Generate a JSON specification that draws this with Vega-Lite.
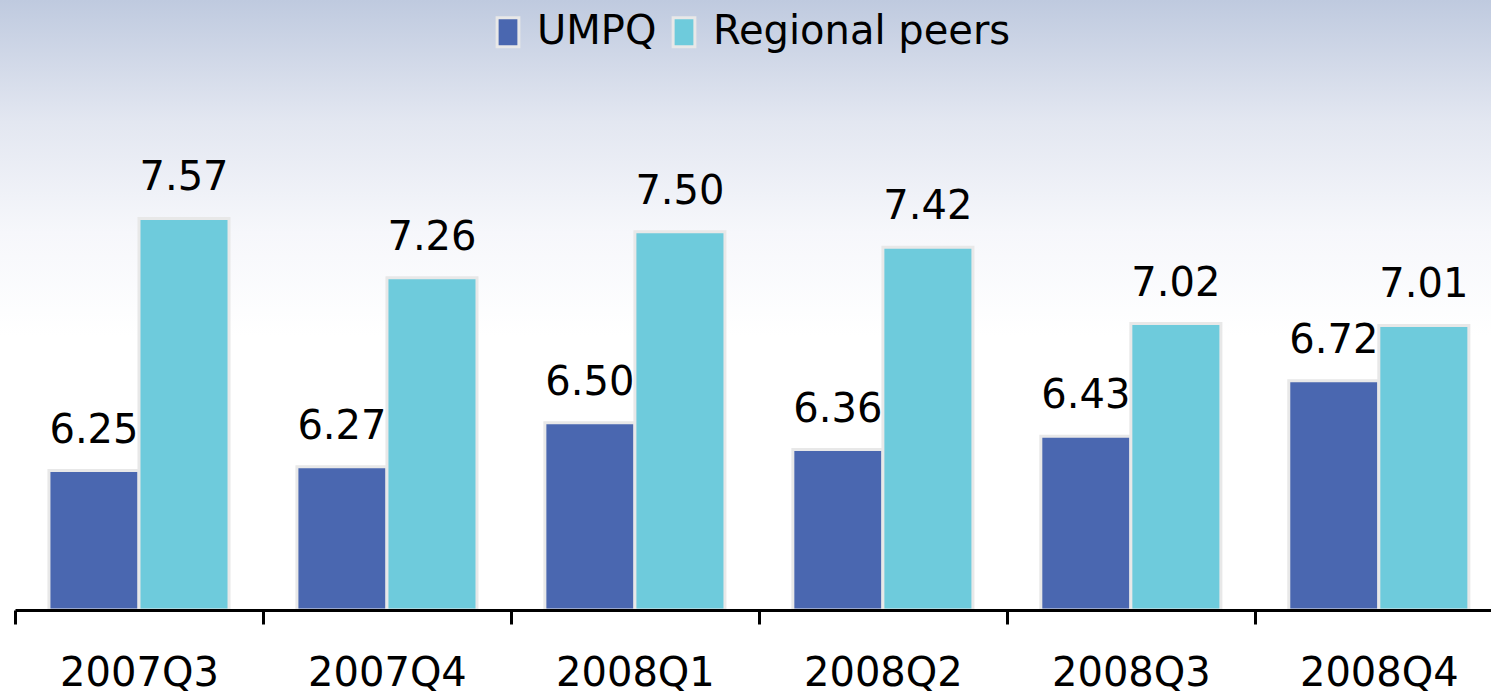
{
  "$schema": "https://vega.github.io/schema/vega-lite/v6.json",
  "width": 1491,
  "height": 610,
  "autosize": {"type": "none"},
  "padding": {"left": 0, "top": 0, "right": 0, "bottom": 83},
  "background": "white",
  "config": {
    "font": "DejaVu Sans",
    "view": {
      "stroke": null,
      "fill": {
        "gradient": "linear", "x1": 0, "y1": 0, "x2": 0, "y2": 1,
        "stops": [
          {"offset": 0, "color": "#bfcadf"},
          {"offset": 0.2, "color": "#e3e7f1"},
          {"offset": 0.38, "color": "#f6f7fb"},
          {"offset": 0.55, "color": "#ffffff"},
          {"offset": 1, "color": "#ffffff"}
        ]
      }
    }
  },
  "data": {
    "values": [
      {"quarter": "2007Q3", "series": "UMPQ", "value": 6.25},
      {"quarter": "2007Q3", "series": "Regional peers", "value": 7.57},
      {"quarter": "2007Q4", "series": "UMPQ", "value": 6.27},
      {"quarter": "2007Q4", "series": "Regional peers", "value": 7.26},
      {"quarter": "2008Q1", "series": "UMPQ", "value": 6.50},
      {"quarter": "2008Q1", "series": "Regional peers", "value": 7.50},
      {"quarter": "2008Q2", "series": "UMPQ", "value": 6.36},
      {"quarter": "2008Q2", "series": "Regional peers", "value": 7.42},
      {"quarter": "2008Q3", "series": "UMPQ", "value": 6.43},
      {"quarter": "2008Q3", "series": "Regional peers", "value": 7.02},
      {"quarter": "2008Q4", "series": "UMPQ", "value": 6.72},
      {"quarter": "2008Q4", "series": "Regional peers", "value": 7.01}
    ]
  },
  "encoding": {
    "x": {
      "field": "quarter", "type": "nominal", "sort": null,
      "scale": {"range": [15, 1502.8], "paddingInner": 0, "paddingOuter": 0},
      "axis": {
        "title": null, "grid": false, "labelAngle": 0, "zindex": 1,
        "domainColor": "black", "domainWidth": 3,
        "tickColor": "black", "tickWidth": 3, "tickSize": 14, "tickBand": "extent",
        "labelFont": "DejaVu Sans", "labelFontSize": 40, "labelColor": "black", "labelPadding": 29
      }
    },
    "xOffset": {
      "field": "series", "type": "nominal", "sort": ["UMPQ", "Regional peers"],
      "scale": {"paddingInner": 0, "paddingOuter": 0.377}
    },
    "y": {
      "field": "value", "type": "quantitative",
      "scale": {"domain": [5.52, 8.714], "zero": false, "nice": false, "clamp": true},
      "axis": null
    }
  },
  "layer": [
    {
      "mark": {"type": "bar", "stroke": "#e8e8e8", "strokeWidth": 3},
      "encoding": {
        "color": {
          "field": "series", "type": "nominal", "sort": ["UMPQ", "Regional peers"],
          "scale": {"domain": ["UMPQ", "Regional peers"], "range": ["#4a67b0", "#6ecbdc"]},
          "legend": {
            "orient": "none", "legendX": 488, "legendY": 12, "direction": "horizontal",
            "title": null, "padding": 0,
            "labelFont": "DejaVu Sans", "labelFontSize": 40, "labelColor": "black", "labelLimit": 500,
            "labelOffset": 9, "columnPadding": 7,
            "symbolType": "M-0.75,-1H0.75V1H-0.75Z", "symbolSize": 841,
            "symbolStrokeColor": "#e8e8e8", "symbolStrokeWidth": 3, "symbolOpacity": 1
          }
        }
      }
    },
    {
      "mark": {"type": "text", "fontSize": 40, "font": "DejaVu Sans", "dy": -28, "baseline": "alphabetic", "color": "black"},
      "encoding": {
        "text": {"field": "value", "type": "quantitative", "format": ".2f"}
      }
    }
  ]
}
